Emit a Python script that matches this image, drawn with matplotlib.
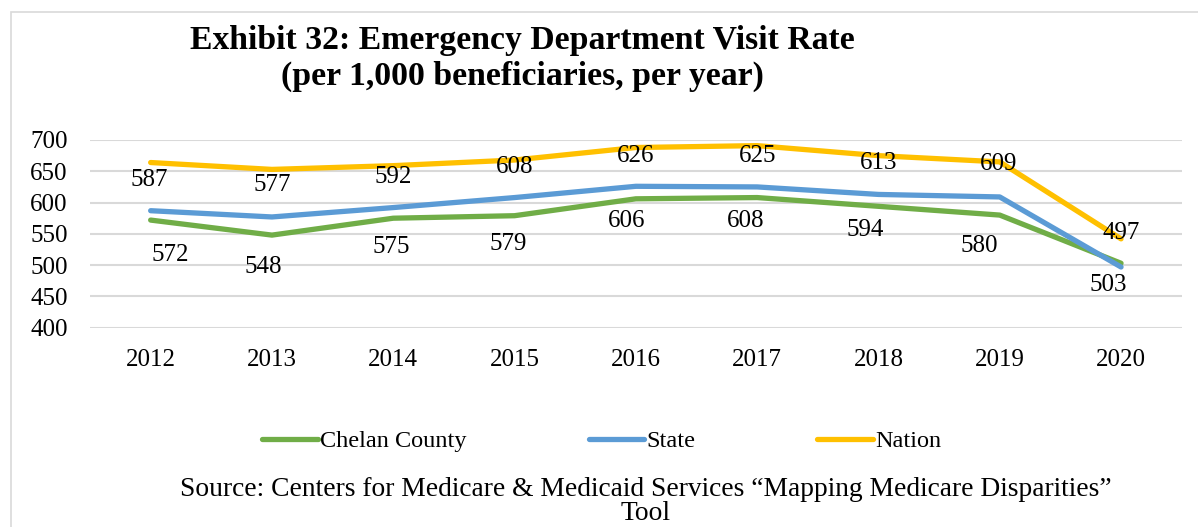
import matplotlib
matplotlib.use("Agg")
import matplotlib.pyplot as plt
from matplotlib.patches import Rectangle
from matplotlib.lines import Line2D

years = ["2012", "2013", "2014", "2015", "2016", "2017", "2018", "2019", "2020"]
chelan = [572, 548, 575, 579, 606, 608, 594, 580, 503]
state = [587, 577, 592, 608, 626, 625, 613, 609, 497]
nation = [664, 653, 659, 668, 688, 691, 675, 665, 542]

# label offsets in pixels (dx, dy; positive dy = downward)
state_off = [(-1, -31), (0, -32), (0, -31), (0, -31), (0, -30), (0, -31), (0, -31), (-1, -33), (0, -34)]
chelan_off = [(20, 35), (-9, 32), (-2, 29), (-6, 28), (-9, 22), (-12, 23), (-13, 24), (-20, 31), (-13, 22)]

W, H = 1198, 527
fig = plt.figure(figsize=(W / 100, H / 100), dpi=100)
serif = "Liberation Serif"

# outer chart border
fig.patches.append(Rectangle((11 / W, -0.1), 1.2, 1 - 11.7 / H + 0.1, transform=fig.transFigure,
                             fill=False, edgecolor="#d9d9d9", linewidth=1.2))

ax = fig.add_axes([90 / W, 1 - 327.7 / H, (1181.7 - 90) / W, (327.7 - 140) / H])
x = list(range(len(years)))
c_green, c_blue, c_yellow = "#70AD47", "#5B9BD5", "#FFC000"
lw = 3.8
ax.plot(x, chelan, color=c_green, lw=lw, solid_capstyle="round", solid_joinstyle="round", zorder=3)
ax.plot(x, state, color=c_blue, lw=lw, solid_capstyle="round", solid_joinstyle="round", zorder=4)
ax.plot(x, nation, color=c_yellow, lw=lw, solid_capstyle="round", solid_joinstyle="round", zorder=2)

ax.set_xlim(-0.5, len(years) - 0.5)
ax.set_ylim(400, 700)
ax.set_yticks(range(400, 701, 50))
ax.set_xticks(x)
ax.set_xticklabels(years)
ax.grid(axis="y", color="#d9d9d9", linewidth=1.5)
ax.set_axisbelow(True)
for s in ax.spines.values():
    s.set_visible(False)
fs = 18
ax.tick_params(axis="both", length=0, labelsize=fs, colors="black")
ax.tick_params(axis="y", pad=16)
ax.tick_params(axis="x", pad=15)
for lab in ax.get_xticklabels() + ax.get_yticklabels():
    lab.set_fontfamily(serif)

for i in x:
    dx, dy = state_off[i]
    ax.annotate(str(state[i]), (i, state[i]), xytext=(dx * 0.72, -dy * 0.72), textcoords="offset points",
                ha="center", va="center", fontsize=fs, family=serif, zorder=6)
    dx, dy = chelan_off[i]
    ax.annotate(str(chelan[i]), (i, chelan[i]), xytext=(dx * 0.72, -dy * 0.72), textcoords="offset points",
                ha="center", va="center", fontsize=fs, family=serif, zorder=6)

fig.text(522 / W, 1 - 58.5 / H, "Exhibit 32: Emergency Department Visit Rate\n(per 1,000 beneficiaries, per year)",
         ha="center", va="center", fontsize=24.3, fontweight="bold", family=serif, linespacing=1.18)

handles = [Line2D([], [], color=c, lw=lw, solid_capstyle="round") for c in (c_green, c_blue, c_yellow)]
fig.legend(handles, ["Chelan County", "State", "Nation"], loc="center", bbox_to_anchor=(602 / W, 1 - 441 / H),
           ncol=3, frameon=False, prop={"family": serif, "size": 17.5}, handlelength=2.3, handletextpad=0.1,
           columnspacing=5.0)

fig.text(646 / W, 1 - 501.5 / H,
         "Source: Centers for Medicare & Medicaid Services \u201cMapping Medicare Disparities\u201d\nTool",
         ha="center", va="center", fontsize=19.8, family=serif, linespacing=1.0)

fig.savefig("out.png", dpi=100)
